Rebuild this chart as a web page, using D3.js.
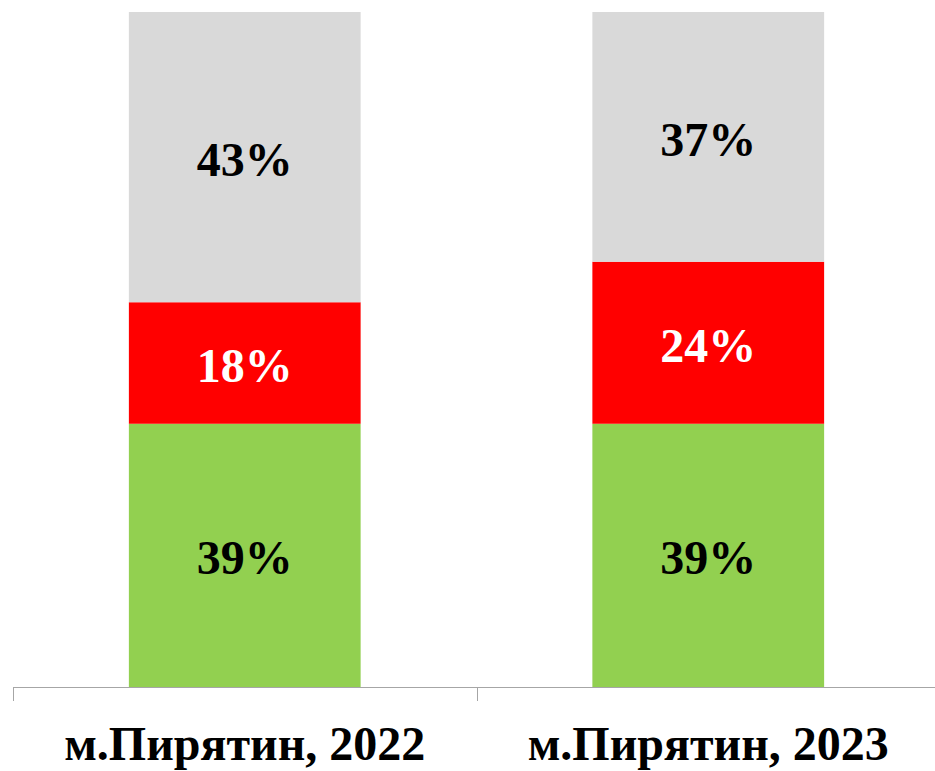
<!DOCTYPE html>
<html lang="uk">
<head>
<meta charset="UTF-8">
<title>м.Пирятин 2022-2023</title>
<script src="https://d3js.org/d3.v7.min.js"></script>
<style>
  body { margin: 0; background: #fff; }
  svg text { font-family: "Liberation Serif", "Times New Roman", serif; font-weight: bold; }
</style>
</head>
<body>
<div id="chart"></div>
<script>
  // data
  const categories = ["м.Пирятин, 2022", "м.Пирятин, 2023"];
  const seriesNames = ["green", "red", "grey"];
  const greenValues = [0.39, 0.39];
  const redValues = [0.18, 0.24];
  const greyValues = [0.43, 0.37];
  const seriesColors = ["#92d050", "#ff0000", "#d9d9d9"];
  const labelColors = ["#000", "#fff", "#000"];

  const width = 935, height = 771;
  const margin = {top: 12, left: 13, right: -5, bottom: 84};

  const svg = d3.select("#chart").append("svg")
    .attr("width", width)
    .attr("height", height);

  const x = d3.scaleBand()
    .domain(categories)
    .range([margin.left, width - margin.right])
    .paddingInner(0.5)
    .paddingOuter(0.25);

  const y = d3.scaleLinear()
    .domain([0, 1])
    .range([height - margin.bottom, margin.top]);

  const table = categories.map((c, i) => ({
    cat: c,
    green: greenValues[i],
    red: redValues[i],
    grey: greyValues[i]
  }));

  const stacked = d3.stack().keys(seriesNames)(table);

  const layers = svg.selectAll("g.layer")
    .data(stacked)
    .enter().append("g")
    .attr("class", "layer")
    .attr("fill", (d, i) => seriesColors[i]);

  layers.selectAll("rect")
    .data(d => d)
    .enter().append("rect")
    .attr("x", d => x(d.data.cat))
    .attr("width", x.bandwidth())
    .attr("y", d => y(d[1]))
    .attr("height", d => y(d[0]) - y(d[1]));

  layers.selectAll("text")
    .data((d, i) => d.map(p => ({p, i})))
    .enter().append("text")
    .attr("x", d => x(d.p.data.cat) + x.bandwidth() / 2)
    .attr("y", d => (y(d.p[0]) + y(d.p[1])) / 2 + 2)
    .attr("dy", "0.35em")
    .attr("text-anchor", "middle")
    .attr("font-size", 48)
    .attr("fill", d => labelColors[d.i])
    .text(d => Math.round((d.p[1] - d.p[0]) * 100) + "%");

  // category axis
  const step = x.step();
  const axisY = y(0);
  const ax = svg.append("g");
  ax.append("line")
    .attr("x1", margin.left).attr("x2", width)
    .attr("y1", axisY + 0.5).attr("y2", axisY + 0.5)
    .attr("stroke", "#a6a6a6").attr("stroke-width", 1);
  ax.selectAll("line.tick")
    .data(categories)
    .enter().append("line")
    .attr("class", "tick")
    .attr("x1", (d, i) => Math.round(margin.left + i * step) + 0.5)
    .attr("x2", (d, i) => Math.round(margin.left + i * step) + 0.5)
    .attr("y1", axisY).attr("y2", axisY + 14)
    .attr("stroke", "#a6a6a6").attr("stroke-width", 1);

  ax.selectAll("text")
    .data(categories)
    .enter().append("text")
    .attr("x", d => x(d) + x.bandwidth() / 2)
    .attr("y", axisY + 73)
    .attr("text-anchor", "middle")
    .attr("font-size", 48)
    .attr("fill", "#000")
    .text(d => d);
</script>
</body>
</html>
